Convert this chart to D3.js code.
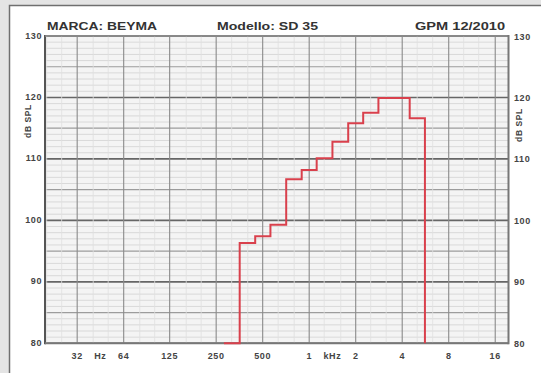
<!DOCTYPE html>
<html><head><meta charset="utf-8">
<script src="https://cdn.jsdelivr.net/npm/d3@7"></script>
<style>html,body{margin:0;padding:0;background:#e4e4e4;}svg{display:block;}</style>
</head><body>
<svg id="c" width="541" height="373"></svg>
<script>
// ---- data ----
const headerTexts = ["MARCA: BEYMA", "Modello: SD 35", "GPM 12/2010"];
const bandFreqs = [315, 400, 500, 630, 800, 1000, 1250, 1600, 2000, 2500, 3150, 4000, 5000];
const bandLevels = [80, 96.3, 97.4, 99.3, 106.7, 108.2, 110.1, 112.8, 115.8, 117.5, 119.9, 119.9, 116.6];
const octaveFreqs = [31.5, 63, 125, 250, 500, 1000, 2000, 4000, 8000, 16000];
const thirdFreqs = [20, 25, 40, 50, 80, 100, 160, 200, 315, 400, 630, 800, 1250, 1600, 2500, 3150, 5000, 6300, 10000, 12500, 20000];
const xTickFreqs = [31.5, 44.5, 63, 125, 250, 500, 1000, 1414, 2000, 4000, 8000, 16000];
const xTickLabels = ["32", "Hz", "64", "125", "250", "500", "1", "kHz", "2", "4", "8", "16"];
const yTicks = [80, 90, 100, 110, 120, 130];
const yUnit = "dB SPL";

const svg = d3.select("#c");
const L = 45, R = 508.5, T = 36, B = 343.3;
const x = d3.scaleLog().domain([19.5, 19500]).range([L, R]);
const y = d3.scaleLinear().domain([80, 130]).range([B, T]);

// outer panel
svg.append("rect").attr("x", 9.5).attr("y", 5.5).attr("width", 540).attr("height", 380)
  .attr("fill", "#fff").attr("stroke", "#6f6f6f").attr("stroke-width", 1.5);

// plot bg
svg.append("rect").attr("x", L).attr("y", T).attr("width", R - L).attr("height", B - T).attr("fill", "#f4f4f4");

// horizontal grid
const dbs = d3.range(80, 131, 1);
svg.append("g").selectAll("line").data(dbs).join("line")
  .attr("x1", L).attr("x2", R).attr("y1", d => y(d)).attr("y2", d => y(d))
  .attr("stroke", d => d % 10 === 0 ? "#666" : d % 5 === 0 ? "#9c9c9c" : "#d2d2d2")
  .attr("stroke-width", d => d % 10 === 0 ? 1.6 : d % 5 === 0 ? 1.2 : 0.8);

// vertical grid
svg.append("g").selectAll("line").data(thirdFreqs.filter(f => f > 19.5 && f < 19500)).join("line")
  .attr("x1", d => x(d)).attr("x2", d => x(d)).attr("y1", T).attr("y2", B)
  .attr("stroke", "#e0e0e0").attr("stroke-width", 0.8);
svg.append("g").selectAll("line").data(octaveFreqs).join("line")
  .attr("x1", d => x(d)).attr("x2", d => x(d)).attr("y1", T).attr("y2", B)
  .attr("stroke", "#8a8a8a").attr("stroke-width", 1.1);

// frame
svg.append("line").attr("x1", L).attr("x2", L).attr("y1", T - 1).attr("y2", B + 1).attr("stroke", "#555").attr("stroke-width", 2);
svg.append("line").attr("x1", L).attr("x2", R).attr("y1", B).attr("y2", B).attr("stroke", "#777").attr("stroke-width", 2);
svg.append("line").attr("x1", L).attr("x2", R).attr("y1", T).attr("y2", T).attr("stroke", "#888").attr("stroke-width", 1.5);
svg.append("line").attr("x1", R).attr("x2", R).attr("y1", T - 1).attr("y2", B + 1).attr("stroke", "#777").attr("stroke-width", 2);

// response steps
const edges = bandFreqs.map((f, i) => {
  const lo = i === 0 ? f / Math.pow(2, 1 / 6) : Math.sqrt(f * bandFreqs[i - 1]);
  const hi = i === bandFreqs.length - 1 ? f * Math.pow(2, 1 / 6) : Math.sqrt(f * bandFreqs[i + 1]);
  return [lo, hi];
});
const pts = [];
bandFreqs.forEach((f, i) => {
  pts.push([x(edges[i][0]), y(bandLevels[i])]);
  pts.push([x(edges[i][1]), y(bandLevels[i])]);
});
pts.push([x(edges[edges.length - 1][1]), y(80)]);
svg.append("path").attr("d", d3.line()(pts)).attr("fill", "none")
  .attr("stroke", "#d9404c").attr("stroke-width", 2).attr("stroke-linejoin", "miter");

// header
const hf = "'Liberation Sans', Arial, sans-serif";
const hx = [47, 217, 505];
const hw = [110, 101, 90];
const ha = ["start", "start", "end"];
svg.append("g").selectAll("text").data(headerTexts).join("text")
  .attr("x", (d, i) => hx[i]).attr("y", 30).attr("text-anchor", (d, i) => ha[i])
  .attr("textLength", (d, i) => hw[i]).attr("lengthAdjust", "spacingAndGlyphs")
  .attr("font-family", hf).attr("font-weight", "bold").attr("font-size", 11).attr("fill", "#333")
  .text(d => d);

// y labels
const lab = sel => sel.attr("font-family", hf).attr("font-weight", "bold").attr("font-size", 9)
  .attr("letter-spacing", 0.6).attr("fill", "#444");
svg.append("g").selectAll("text").data(yTicks).join("text")
  .attr("x", 42).attr("y", d => y(d) + 2.5).attr("text-anchor", "end").call(lab).text(d => d);
svg.append("g").selectAll("text").data(yTicks).join("text")
  .attr("x", 514).attr("y", d => y(d) + 3.5).attr("text-anchor", "start").call(lab).text(d => d);
[[31, 121], [522, 125]].forEach(([cx, cy]) => {
  svg.append("text").attr("transform", `translate(${cx},${cy}) rotate(-90)`).attr("text-anchor", "middle")
    .call(lab).attr("font-size", 8.5).text(yUnit);
});

// x labels
svg.append("g").selectAll("text").data(xTickFreqs).join("text")
  .attr("x", d => x(d)).attr("y", 359).attr("text-anchor", "middle").call(lab)
  .text((d, i) => xTickLabels[i]);
</script>
</body></html>
